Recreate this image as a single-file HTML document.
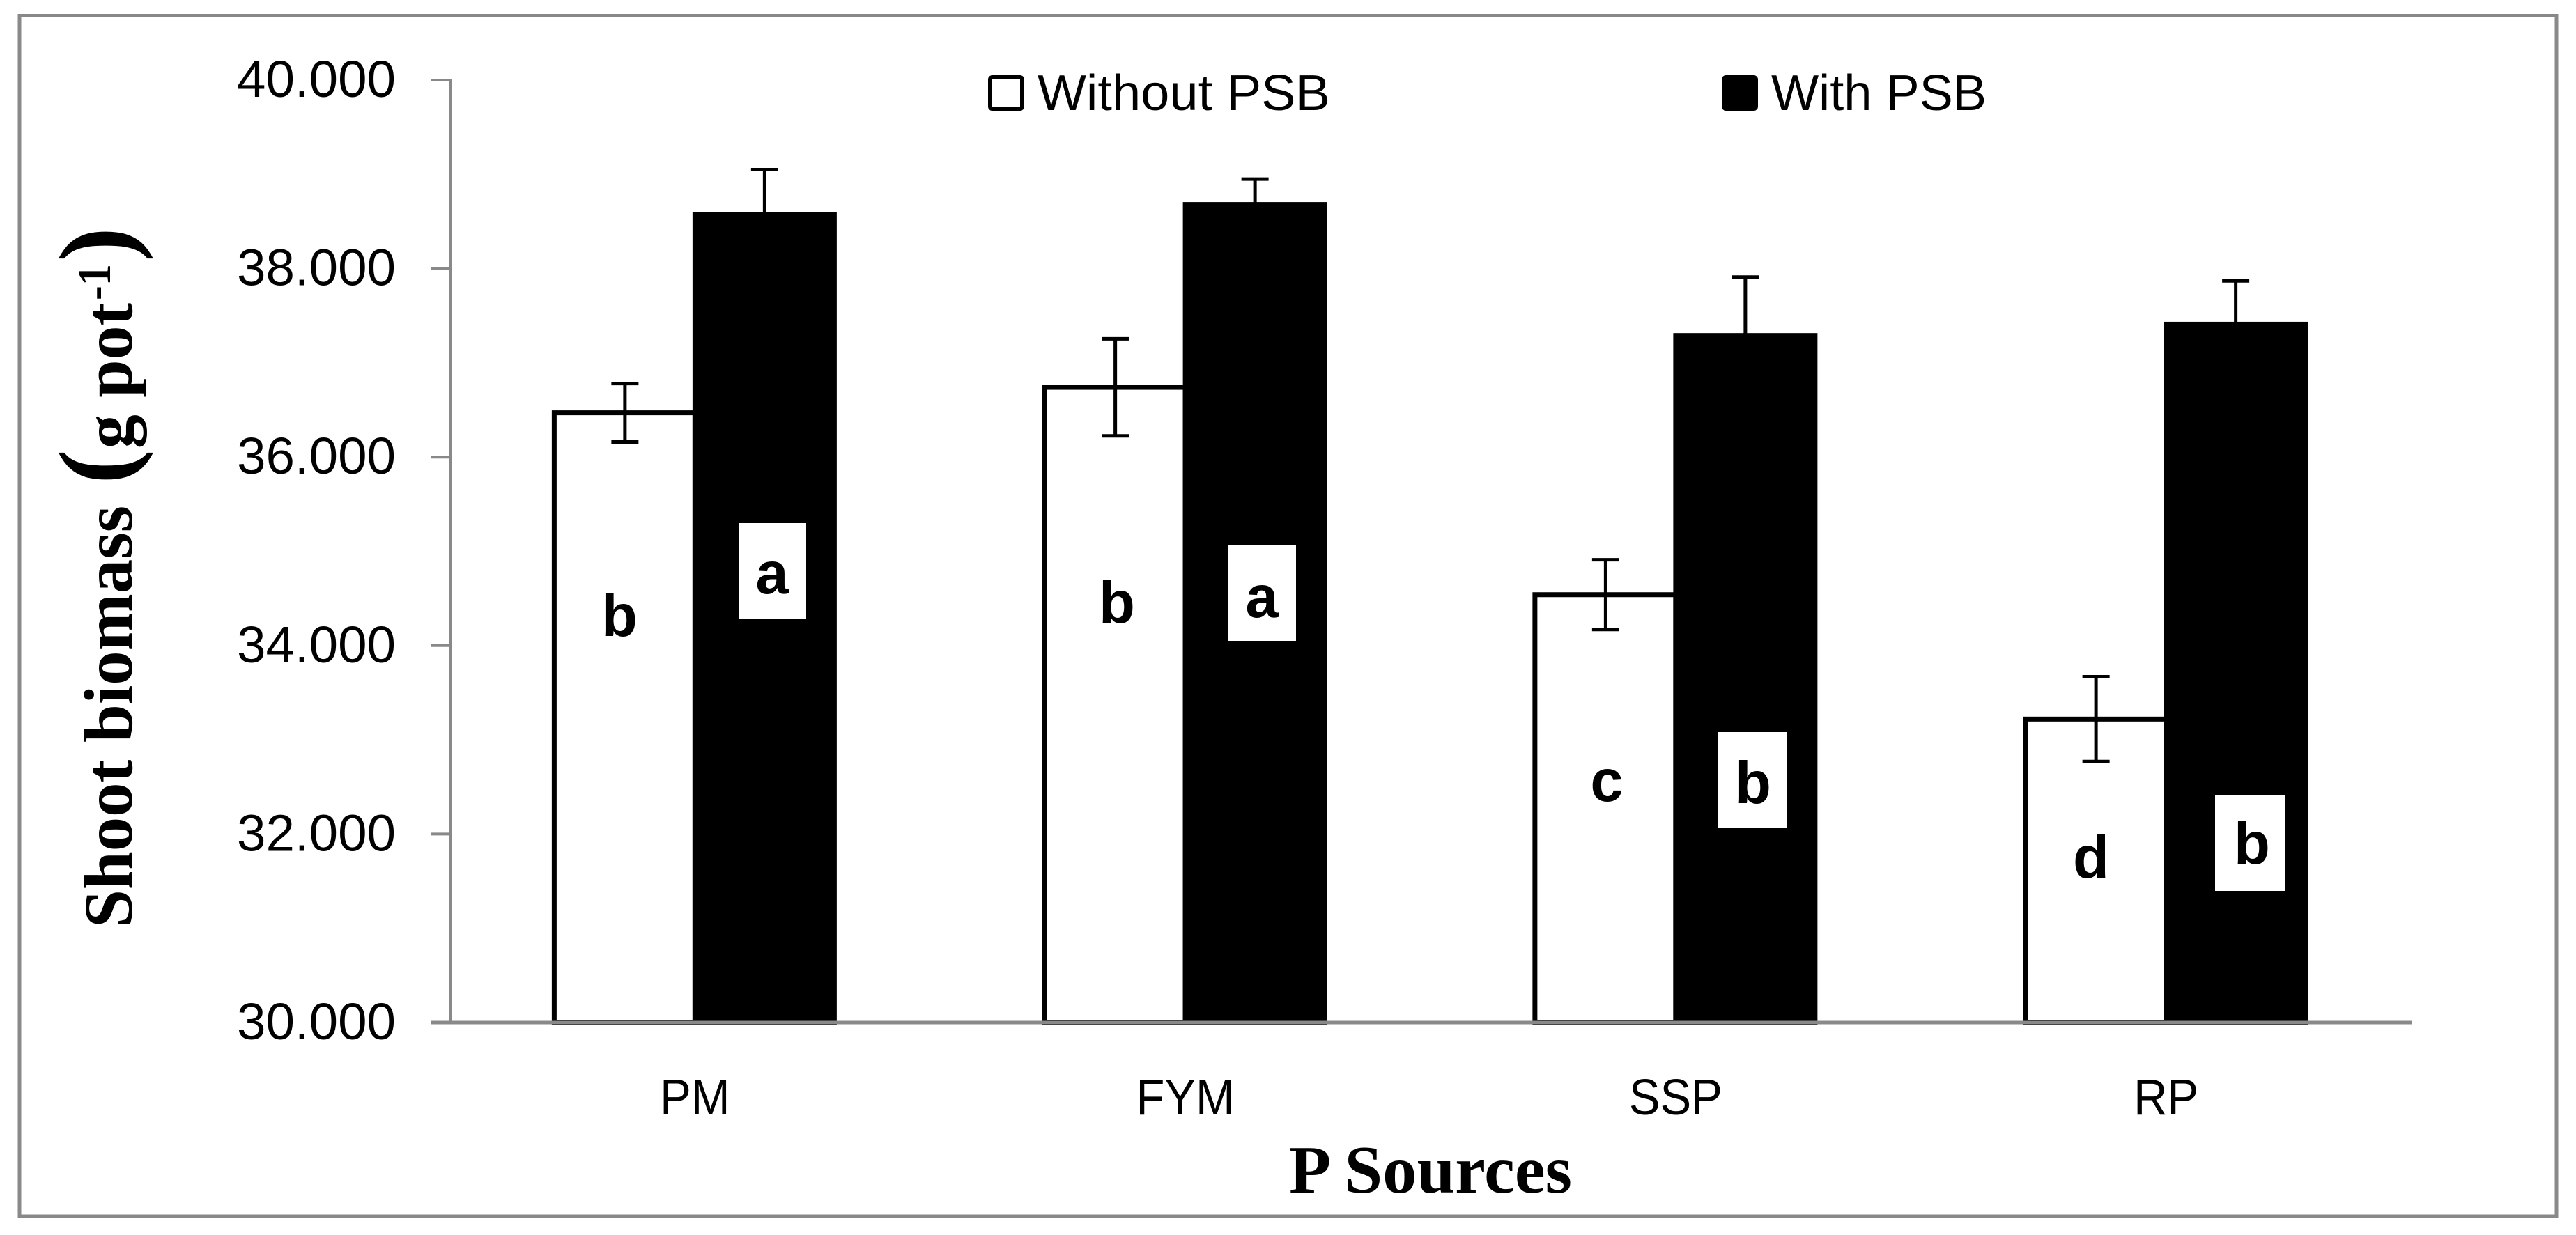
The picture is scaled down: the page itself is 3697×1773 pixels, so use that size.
<!DOCTYPE html>
<html>
<head>
<meta charset="utf-8">
<title>Shoot biomass chart</title>
<style>
html,body{margin:0;padding:0;background:#fff;width:3697px;height:1773px;overflow:hidden}
svg{display:block}
text{fill:#000}
.tick{font-family:"Liberation Sans",sans-serif;font-size:74px}
.legend-text{font-family:"Liberation Sans",sans-serif;font-size:72px}
.letter{font-family:"Liberation Sans",sans-serif;font-size:85px;font-weight:bold;text-anchor:middle}
.title{font-family:"Liberation Serif",serif;font-weight:bold}
</style>
</head>
<body>
<svg id="chart" xmlns="http://www.w3.org/2000/svg" width="3697" height="1773" viewBox="0 0 3697 1773">
  <rect x="0" y="0" width="3697" height="1773" fill="#fff"/>
  <rect x="28" y="22.5" width="3641" height="1723.5" fill="none" stroke="#898989" stroke-width="5"/>
  <g id="bars"></g>
  <g id="errors"></g>
  <g id="axes"></g>

  <g>
    <rect x="1061" y="751" width="96" height="138" fill="#fff"/>
    <rect x="1763" y="782" width="97" height="138" fill="#fff"/>
    <rect x="2466" y="1051" width="99" height="137" fill="#fff"/>
    <rect x="3179" y="1141" width="100" height="138" fill="#fff"/>
    <text class="letter" x="889" y="913">b</text>
    <text class="letter" x="1108" y="852">a</text>
    <text class="letter" x="1603" y="894">b</text>
    <text class="letter" x="1811" y="886">a</text>
    <text class="letter" x="2306" y="1150">c</text>
    <text class="letter" x="2516" y="1153">b</text>
    <text class="letter" x="3001" y="1260">d</text>
    <text class="letter" x="3232" y="1240">b</text>
  </g>

  <g>
    <rect x="1421" y="111" width="46" height="45" rx="3" fill="#fff" stroke="#000" stroke-width="6"/>
    <text class="legend-text" x="1489" y="158" textLength="420" lengthAdjust="spacingAndGlyphs">Without PSB</text>
    <rect x="2474" y="111" width="46" height="45" rx="3" fill="#000" stroke="#000" stroke-width="6"/>
    <text class="legend-text" x="2542" y="158" textLength="309" lengthAdjust="spacingAndGlyphs">With PSB</text>
  </g>

  <g>
    <text class="title" transform="translate(189,1332) rotate(-90)" font-size="100" textLength="606" lengthAdjust="spacingAndGlyphs">Shoot biomass</text>
    <text class="title" transform="translate(188,695) rotate(-90)" font-size="150">(</text>
    <text class="title" transform="translate(189,644) rotate(-90)" font-size="100" textLength="209" lengthAdjust="spacingAndGlyphs">g pot</text>
    <text class="title" transform="translate(158,431) rotate(-90)" font-size="68" textLength="52" lengthAdjust="spacingAndGlyphs">-1</text>
    <text class="title" transform="translate(188,376) rotate(-90)" font-size="150">)</text>
  </g>
  <text class="title" x="1850" y="1712" font-size="98" textLength="406" lengthAdjust="spacingAndGlyphs">P Sources</text>
</svg>
<script>
var categories = ["PM", "FYM", "SSP", "RP"];
var withoutPsb = [36.47, 36.74, 34.54, 33.22];
var withPsb = [38.57, 38.68, 37.29, 37.41];
var withoutPsbErr = [0.31, 0.515, 0.37, 0.45];
var withPsbErr = [0.48, 0.27, 0.62, 0.46];
var yTicks = [30, 32, 34, 36, 38, 40];
var yTickLabels = ["30.000", "32.000", "34.000", "36.000", "38.000", "40.000"];

var SVGNS = "http://www.w3.org/2000/svg";
var plotLeft = 647, plotRight = 3462, plotTop = 115, plotBottom = 1468;
var yMin = 30, yMax = 40;
var whiteWidth = 202, blackWidth = 200;

function yScale(v) {
  return plotBottom - (v - yMin) / (yMax - yMin) * (plotBottom - plotTop);
}
function xCenter(i) {
  return plotLeft + (plotRight - plotLeft) * (i + 0.5) / categories.length - 1.5;
}
function make(tag, attrs, parent) {
  var el = document.createElementNS(SVGNS, tag);
  for (var k in attrs) el.setAttribute(k, attrs[k]);
  parent.appendChild(el);
  return el;
}

var barsG = document.getElementById("bars");
var errG = document.getElementById("errors");
var axesG = document.getElementById("axes");

function drawError(cx, value, err) {
  var yHi = yScale(value + err), yLo = yScale(value - err);
  var stem = make("line", {x1: cx, x2: cx, y1: yHi, y2: yLo, stroke: "#000", "stroke-width": 5}, errG);
  
  
  var capTop = make("line", {x1: cx - 19.5, x2: cx + 19.5, y1: yHi, y2: yHi, stroke: "#000", "stroke-width": 5}, errG);
  
  
  var capBottom = make("line", {x1: cx - 19.5, x2: cx + 19.5, y1: yLo, y2: yLo, stroke: "#000", "stroke-width": 5}, errG);
  
  
}

categories.forEach(function (cat, i) {
  var c = xCenter(i);
  var yW = yScale(withoutPsb[i]);
  var barW = make("rect", {x: c - whiteWidth, y: yW, width: whiteWidth, height: plotBottom - yW, fill: "#fff", stroke: "#000", "stroke-width": 7}, barsG);
  
  
  var yB = yScale(withPsb[i]);
  var barB = make("rect", {x: c, y: yB, width: blackWidth, height: plotBottom - yB, fill: "#000", stroke: "#000", "stroke-width": 7}, barsG);
  
  
  drawError(c - 100.5, withoutPsb[i], withoutPsbErr[i]);
  drawError(c + 100, withPsb[i], withPsbErr[i]);
  var lab = make("text", {x: c, y: 1600, "text-anchor": "middle", "class": "legend-text"}, axesG);
  
  
  lab.textContent = cat;
  lab.setAttribute("textLength", lab.getComputedTextLength() * 0.93);
  lab.setAttribute("lengthAdjust", "spacingAndGlyphs");
});

var yAxis = make("line", {x1: plotLeft, x2: plotLeft, y1: plotTop - 2, y2: plotBottom, stroke: "#898989", "stroke-width": 4}, axesG);


var xAxis = make("line", {x1: 619, x2: plotRight, y1: plotBottom, y2: plotBottom, stroke: "#898989", "stroke-width": 5}, axesG);



yTicks.forEach(function (t, i) {
  var y = yScale(t);
  var tick = make("line", {x1: 619, x2: plotLeft, y1: y, y2: y, stroke: "#898989", "stroke-width": 4}, axesG);
  
  
  var lab = make("text", {x: 340, y: y + 24, "class": "tick", textLength: 228, lengthAdjust: "spacingAndGlyphs"}, axesG);
  
  
  lab.textContent = yTickLabels[i];
});
</script>
</body>
</html>
